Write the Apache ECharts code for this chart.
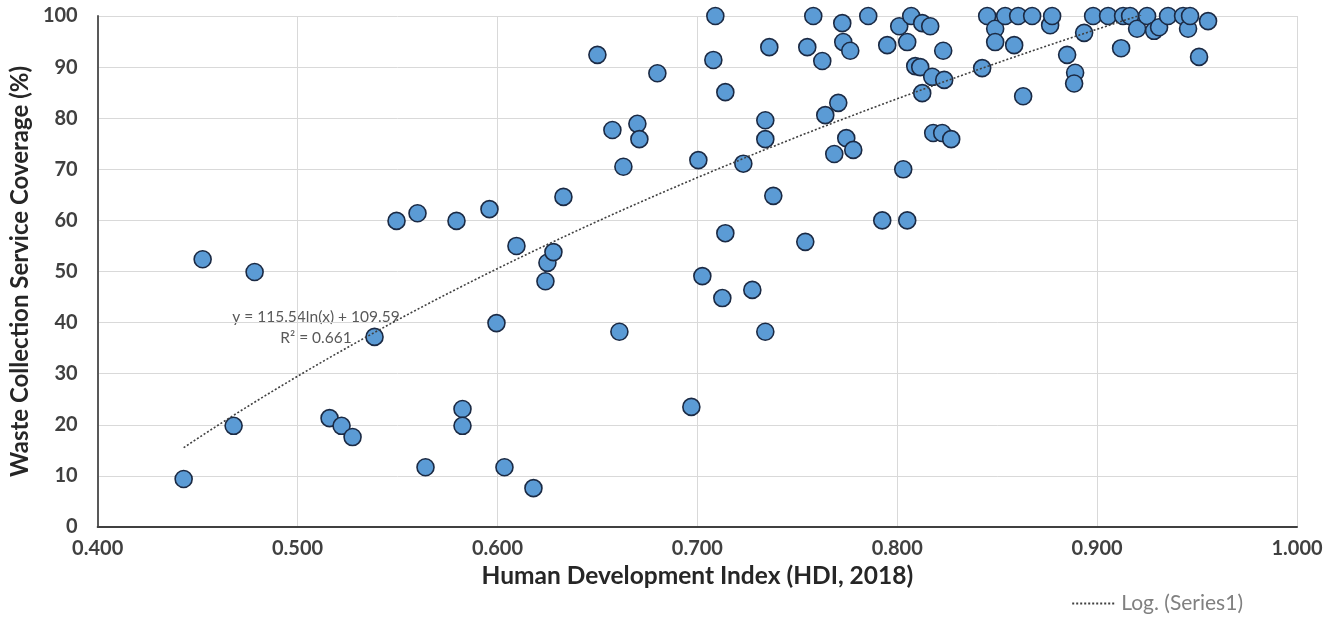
<!DOCTYPE html>
<html>
<head>
<meta charset="utf-8">
<script src="https://cdn.jsdelivr.net/npm/echarts@6/dist/echarts.min.js"></script>
<style>
html,body{margin:0;padding:0;background:#fff;}
#chart{width:1340px;height:620px;}
</style>
</head>
<body>
<div id="chart"></div>
<script>
// HDI (2018) values of each country (x)
const hdi = [
  0.443, 0.4525, 0.468, 0.4785, 0.516, 0.522, 0.5275, 0.5385, 0.5495, 0.560,
  0.564, 0.5795, 0.5825, 0.5825, 0.596, 0.5995, 0.6035, 0.6095, 0.618, 0.624,
  0.625, 0.628, 0.633, 0.650, 0.6575, 0.661, 0.663, 0.670, 0.671, 0.680,
  0.697, 0.7005, 0.7025, 0.708, 0.709, 0.7125, 0.714, 0.714, 0.723, 0.7275,
  0.734, 0.734, 0.734, 0.736, 0.738, 0.754, 0.755, 0.758, 0.7625, 0.764,
  0.7685, 0.7705, 0.7725, 0.773, 0.7745, 0.7765, 0.778, 0.7855, 0.7925, 0.795,
  0.801, 0.803, 0.805, 0.805, 0.807, 0.809, 0.8115, 0.8125, 0.8125, 0.8165,
  0.8175, 0.818, 0.8225, 0.823, 0.8235, 0.827, 0.8425, 0.845, 0.849, 0.849,
  0.854, 0.8585, 0.8605, 0.863, 0.8675, 0.8765, 0.8775, 0.885, 0.889, 0.8885,
  0.8935, 0.898, 0.9055, 0.912, 0.913, 0.9165, 0.920, 0.925, 0.9285, 0.931,
  0.9355, 0.943, 0.9455, 0.9465, 0.951, 0.9555
];
// Waste collection service coverage (%) (y)
const coverage = [
  9.4, 52.4, 19.8, 49.9, 21.3, 19.8, 17.6, 37.2, 59.9, 61.4,
  11.7, 59.9, 23.1, 19.8, 62.2, 39.9, 11.7, 55.0, 7.6, 48.1,
  51.7, 53.8, 64.6, 92.4, 77.7, 38.2, 70.5, 78.9, 75.9, 88.8,
  23.5, 71.8, 49.1, 91.4, 100, 44.8, 85.1, 57.5, 71.1, 46.4,
  79.6, 75.9, 38.2, 93.9, 64.8, 55.8, 93.9, 100, 91.2, 80.6,
  73.0, 83.0, 98.6, 94.9, 76.1, 93.2, 73.8, 100, 60.0, 94.3,
  98.0, 70.0, 60.0, 94.9, 100, 90.2, 90.0, 98.6, 84.9, 98.0,
  88.1, 77.1, 77.1, 93.2, 87.5, 75.9, 89.8, 100, 97.5, 94.9,
  100, 94.3, 100, 84.3, 100, 98.2, 100, 92.4, 88.9, 86.8,
  96.7, 100, 100, 93.7, 100, 100, 97.5, 100, 97.1, 97.8,
  100, 100, 97.5, 100, 92.0, 99.0
];
// Logarithmic trendline shown on the chart: y = a*ln(x) + b
const trendA = 115.54;
const trendB = 109.59;
const trendLabel = ['y = 115.54ln(x) + 109.59', 'R\u00b2 = 0.661'];
const xTicks = [0.4, 0.5, 0.6, 0.7, 0.8, 0.9, 1.0];

const points = hdi.map((x, i) => [x, coverage[i]]);
const xMinData = Math.min(...hdi), xMaxData = Math.max(...hdi);
const trend = [];
const steps = 200;
for (let i = 0; i <= steps; i++) {
  const x = xMinData + (xMaxData - xMinData) * i / steps;
  trend.push([x, trendA * Math.log(x) + trendB]);
}

const FONT = 'Lato, "Open Sans", sans-serif';
const chart = echarts.init(document.getElementById('chart'));
chart.setOption({
  animation: false,
  backgroundColor: '#ffffff',
  grid: { left: 97, right: 43, top: 16, bottom: 93, containLabel: false },
  xAxis: {
    type: 'value', min: 0.4, max: 1.0, interval: 0.1,
    name: 'Human Development Index (HDI, 2018)',
    nameLocation: 'middle', nameGap: 23,
    nameTextStyle: { fontFamily: FONT, fontWeight: 'bold', fontSize: 24.5, color: '#262626' },
    axisLine: { show: true, onZero: false, lineStyle: { color: '#404040', width: 2 } },
    axisTick: { show: false },
    axisLabel: { margin: 12, fontFamily: FONT, fontWeight: 'bold', fontSize: 20, color: '#404040',
      formatter: v => v.toFixed(3) },
    splitLine: { show: true, lineStyle: { color: '#d9d9d9', width: 1 } }
  },
  yAxis: {
    type: 'value', min: 0, max: 100, interval: 10,
    name: 'Waste Collection Service Coverage (%)',
    nameLocation: 'middle', nameGap: 63,
    nameTextStyle: { fontFamily: FONT, fontWeight: 'bold', fontSize: 24, color: '#262626' },
    axisLine: { show: true, lineStyle: { color: '#595959', width: 2 } },
    axisTick: { show: false },
    axisLabel: { margin: 20, fontFamily: FONT, fontWeight: 'bold', fontSize: 20, color: '#404040' },
    splitLine: { show: true, lineStyle: { color: '#d9d9d9', width: 1 } }
  },
  legend: {
    data: [{ name: 'Log. (Series1)' }],
    right: 92, bottom: 1,
    itemWidth: 44, itemHeight: 10, itemGap: 7,
    itemStyle: { opacity: 0 },
    textStyle: { fontFamily: FONT, fontSize: 21, color: '#808080' }
  },
  graphic: [
    { type: 'text', silent: true,
      style: { x: 316, y: 317, text: trendLabel[0], align: 'center', verticalAlign: 'middle',
        fontFamily: FONT, fontSize: 15.5, fill: '#595959' } },
    { type: 'text', silent: true,
      style: { x: 316, y: 338, text: trendLabel[1], align: 'center', verticalAlign: 'middle',
        fontFamily: FONT, fontSize: 15.5, fill: '#595959' } }
  ],
  series: [
    {
      name: 'Series1', type: 'scatter', data: points, symbol: 'circle', symbolSize: 17,
      itemStyle: { color: '#5b9bd5', borderColor: '#1b2a44', borderWidth: 1.6, opacity: 1 },
      z: 3
    },
    {
      name: 'Log. (Series1)', type: 'line', data: trend, showSymbol: false, symbol: 'none',
      smooth: false, clip: true,
      lineStyle: { color: '#404040', width: 1.6, type: [2, 2] },
      z: 4, silent: true
    }
  ]
});
</script>
</body>
</html>
